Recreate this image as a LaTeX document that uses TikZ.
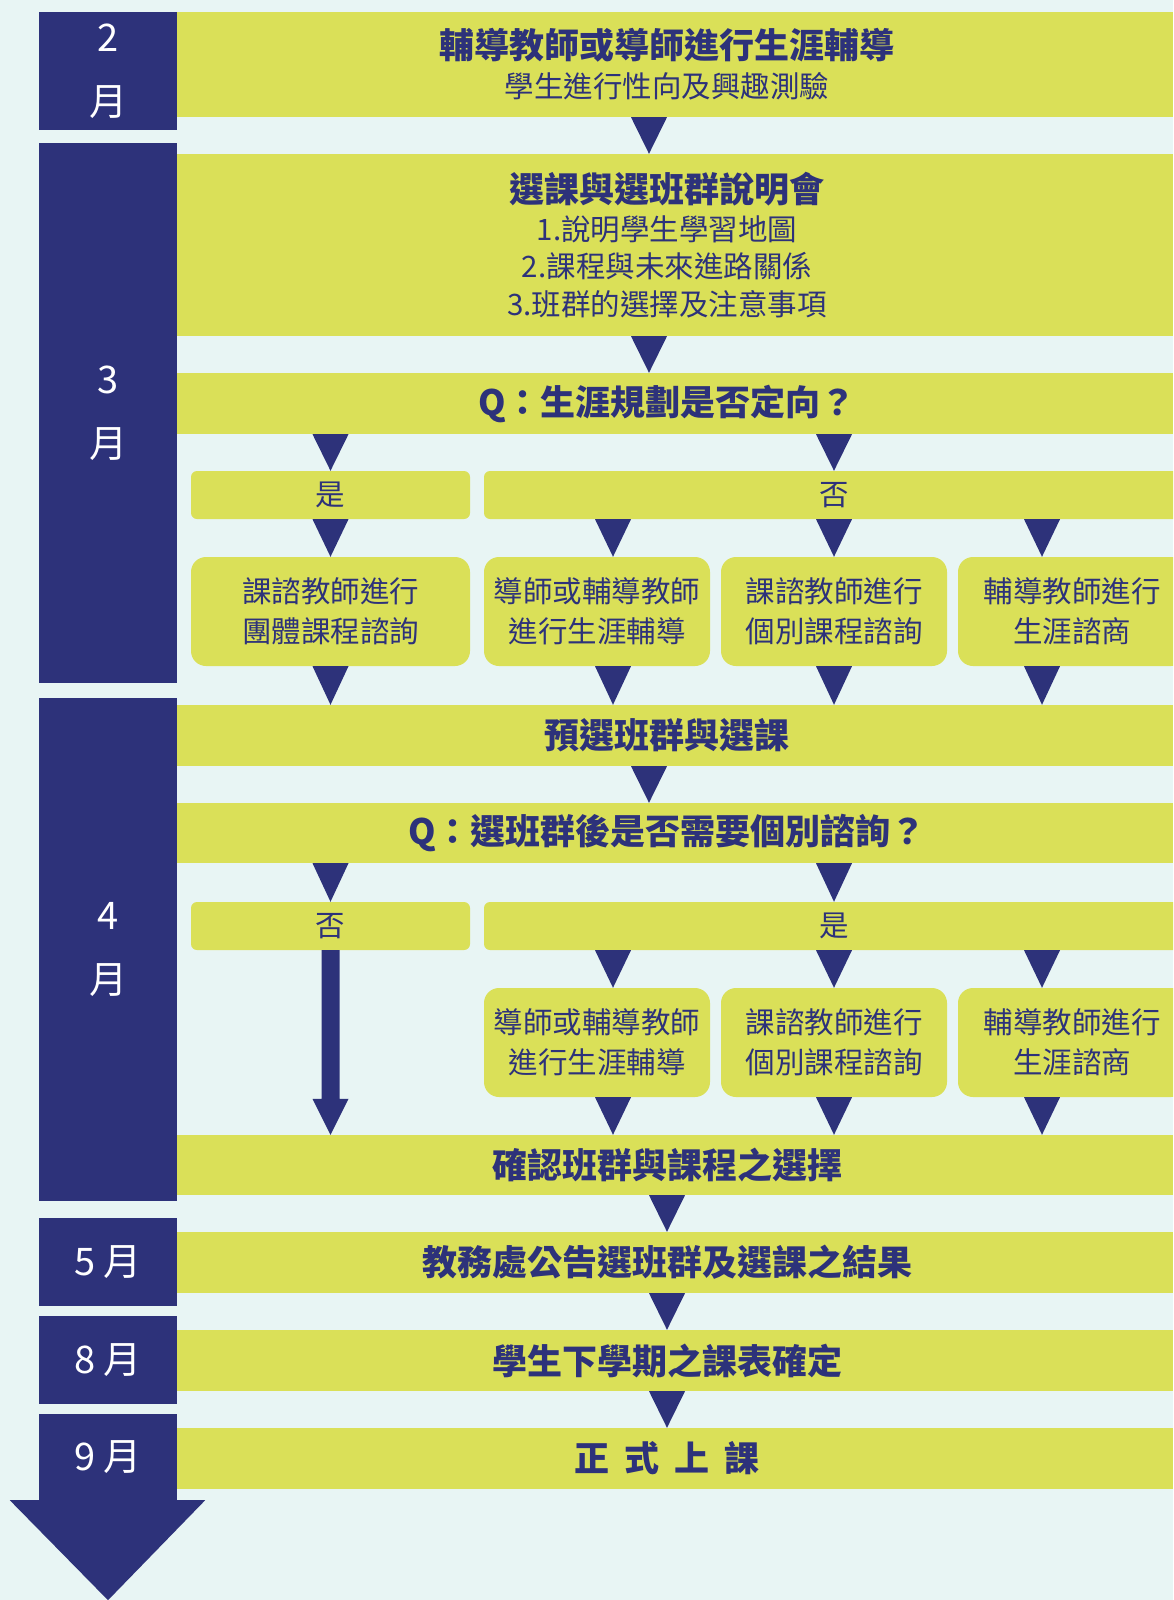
\documentclass[tikz,border=0pt]{standalone}
\usepackage{fontspec}
\setmainfont{Noto Sans CJK TC}
\usetikzlibrary{calc}

\definecolor{marinho}{RGB}{45,50,122}
\definecolor{lima}{RGB}{218,224,88}
\definecolor{fundo}{RGB}{232,245,244}

\newcommand{\titulo}[1]{{\fontsize{35}{37.5}\selectfont\bfseries #1}}
% seta triangular entre duas caixas, na abscissa #1
\newcommand{\seta}[3]{\fill[marinho] let \p1=(#1,0), \p2=(#2.south), \p3=(#3.north) in
  (\x1-18pt,\y2) -- (\x1+18pt,\y2) -- (\x1,\y3) -- cycle;}

\begin{document}
\begin{tikzpicture}[x=1pt, y=-1pt,
  faixa/.style={fill=lima, minimum width=1012pt, inner sep=0pt, text=marinho, align=center, font=\fontsize{29.5}{37.5}\selectfont},
  mes/.style={fill=marinho, minimum width=138pt, inner sep=0pt, text=white, align=center, font=\fontsize{38}{63.5}\selectfont},
  caixa/.style={fill=lima, rounded corners=15pt, inner sep=0pt, minimum height=109pt, text=marinho, align=center, font=\fontsize{29.5}{40}\selectfont},
  opcao/.style={fill=lima, rounded corners=6pt, inner sep=0pt, minimum height=48pt, text=marinho, font=\fontsize{29.5}{37.5}\selectfont}]
  % Fundo
  \clip (0,0) rectangle (1173,1600);
  \fill[fundo] (0,0) rectangle (1173,1600);

  % Etapas principais
  \node[faixa, minimum height=105pt] (b1) at (667,64.5) {\titulo{輔導教師或導師進行生涯輔導}\\[1.5pt] 學生進行性向及興趣測驗};
  \node[faixa, minimum height=182pt] (b2) at (667,245) {\titulo{選課與選班群說明會}\\ 1.說明學生學習地圖\\ 2.課程與未來進路關係\\ 3.班群的選擇及注意事項};
  \node[faixa, minimum height=61pt] (q1) at (667,403.5) {\titulo{Q：生涯規劃是否定向？}};
  \node[faixa, minimum height=61pt] (pre) at (667,735.5) {\titulo{預選班群與選課}};
  \node[faixa, minimum height=60pt] (q2) at (667,833) {\titulo{Q：選班群後是否需要個別諮詢？}};
  \node[faixa, minimum height=60pt] (conf) at (667,1165) {\titulo{確認班群與課程之選擇}};
  \node[faixa, minimum height=61pt] (pub) at (667,1262.5) {\titulo{教務處公告選班群及選課之結果}};
  \node[faixa, minimum height=61pt] (tab) at (667,1360.5) {\titulo{學生下學期之課表確定}};
  \node[faixa, minimum height=61pt] (aula) at (667,1458.5) {\titulo{正\hspace{0.42em}式\hspace{0.42em}上\hspace{0.42em}課}};

  % Meses
  \node[mes, minimum height=118pt] (m2) at (108,71) {2\\月};
  \node[mes, minimum height=540pt] (m3) at (108,413) {3\\月};
  \node[mes, minimum height=503pt] (m4) at (108,949.5) {4\\月};
  \node[mes, minimum height=88pt] (m5) at (108,1262) {5 月};
  \node[mes, minimum height=88pt] (m8) at (108,1360) {8 月};
  \node[mes, minimum height=86pt] (m9) at (108,1457) {9 月};
  \fill[marinho] ([xshift=-29pt]m9.south west) -- ([xshift=28pt]m9.south east) -- ([yshift=-100pt]m9.south) -- cycle;

  % Primeira pergunta
  \node[opcao, minimum width=279pt] (sim1) at (330.5,495) {是};
  \node[opcao, minimum width=700pt] (nao1) at (834,495) {否};
  \node[caixa, minimum width=279pt] (g1) at (330.5,611.5) {課諮教師進行\\團體課程諮詢};
  \node[caixa, minimum width=226pt] (g2) at (597,611.5) {導師或輔導教師\\進行生涯輔導};
  \node[caixa, minimum width=226pt] (g3) at (834,611.5) {課諮教師進行\\個別課程諮詢};
  \node[caixa, minimum width=228pt] (g4) at (1072,611.5) {輔導教師進行\\生涯諮商};

  % Segunda pergunta
  \node[opcao, minimum width=279pt] (nao2) at (330.5,926) {否};
  \node[opcao, minimum width=700pt] (sim2) at (834,926) {是};
  \node[caixa, minimum width=226pt] (h2) at (597,1042.5) {導師或輔導教師\\進行生涯輔導};
  \node[caixa, minimum width=226pt] (h3) at (834,1042.5) {課諮教師進行\\個別課程諮詢};
  \node[caixa, minimum width=228pt] (h4) at (1072,1042.5) {輔導教師進行\\生涯諮商};

  % Setas
  \seta{649}{b1}{b2}
  \seta{649}{b2}{q1}
  \seta{330.5}{q1}{sim1}
  \seta{834}{q1}{nao1}
  \seta{330.5}{sim1}{g1}
  \seta{613}{nao1}{g2}
  \seta{834}{nao1}{g3}
  \seta{1042}{nao1}{g4}
  \seta{330.5}{g1}{pre}
  \seta{613}{g2}{pre}
  \seta{834}{g3}{pre}
  \seta{1042}{g4}{pre}
  \seta{649}{pre}{q2}
  \seta{330.5}{q2}{nao2}
  \seta{834}{q2}{sim2}
  \seta{613}{sim2}{h2}
  \seta{834}{sim2}{h3}
  \seta{1042}{sim2}{h4}
  \seta{613}{h2}{conf}
  \seta{834}{h3}{conf}
  \seta{1042}{h4}{conf}
  \fill[marinho] let \p1=(nao2.south), \p2=(conf.north) in
    (\x1-9pt,\y1) -- (\x1+9pt,\y1) -- (\x1+9pt,\y2+36pt) -- (\x1+18pt,\y2+36pt)
    -- (\x1,\y2) -- (\x1-18pt,\y2+36pt) -- (\x1-9pt,\y2+36pt) -- cycle;
  \seta{667}{conf}{pub}
  \seta{667}{pub}{tab}
  \seta{667}{tab}{aula}
\end{tikzpicture}
\end{document}
